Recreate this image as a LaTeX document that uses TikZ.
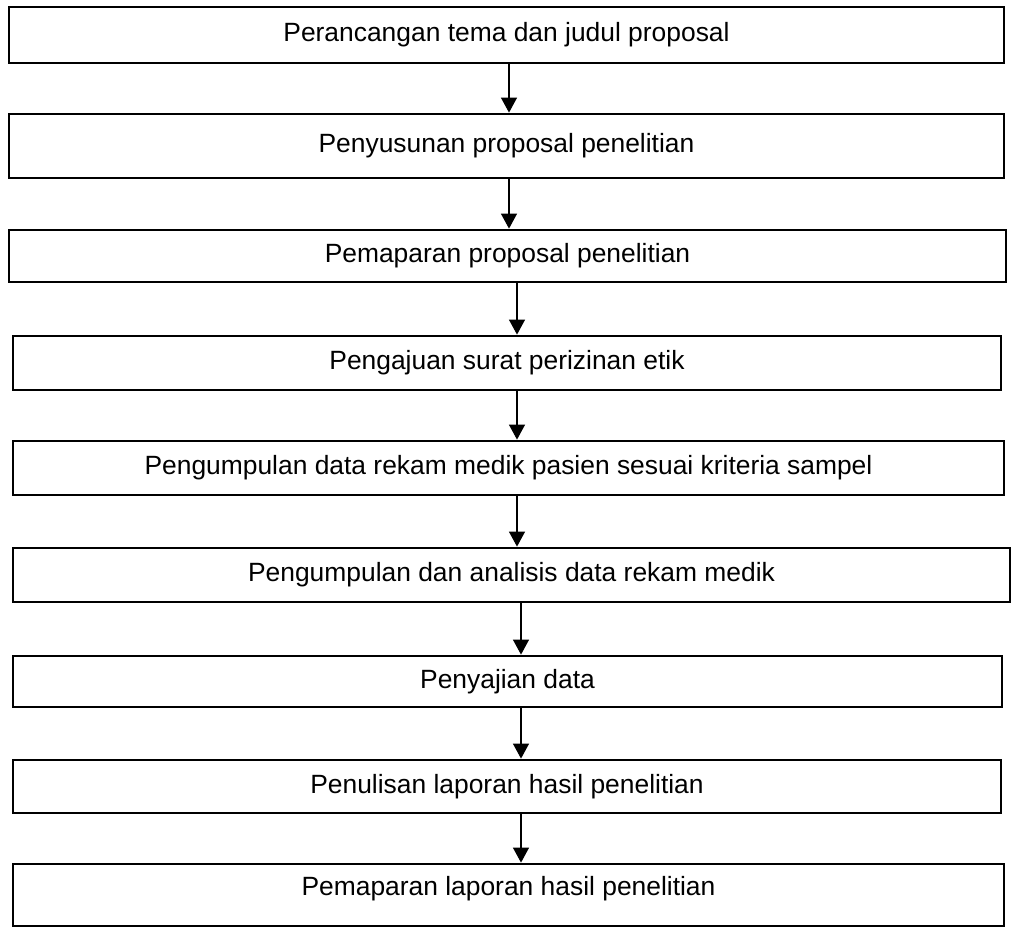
\documentclass[tikz,border=0pt]{standalone}
\usepackage{fontspec}
\setmainfont{Liberation Sans}
\usetikzlibrary{arrows.meta}

\begin{document}
\begin{tikzpicture}[x=0.5pt,y=-0.5pt,
  stepbox/.style={draw,line width=1.4pt,inner sep=0pt,font=\fontsize{13.2}{16}\selectfont},
  flow/.style={line width=0.6pt,-{Triangle[length=7.5pt,width=8pt]}}]
\useasboundingbox (0,0) rectangle (1013,928);
\node[stepbox,minimum width=497.5pt,minimum height=28pt] (1) at (506.5,35) {Perancangan tema dan judul proposal};
\node[stepbox,minimum width=497.5pt,minimum height=32pt] (2) at (506.5,146) {Penyusunan proposal penelitian};
\node[stepbox,minimum width=498.5pt,minimum height=26pt] (3) at (507.5,256) {Pemaparan proposal penelitian};
\node[stepbox,minimum width=494pt,minimum height=27pt] (4) at (507,363) {Pengajuan surat perizinan etik};
\node[stepbox,minimum width=495.5pt,minimum height=27pt] (5) at (508.5,468) {Pengumpulan data rekam medik pasien sesuai kriteria sampel};
\node[stepbox,minimum width=498.5pt,minimum height=27pt] (6) at (511.5,575) {Pengumpulan dan analisis data rekam medik};
\node[stepbox,minimum width=494.5pt,minimum height=25.5pt] (7) at (507.5,681.5) {Penyajian data};
\node[stepbox,minimum width=494pt,minimum height=26.5pt] (8) at (507,786.5) {Penulisan laporan hasil penelitian};
\node[stepbox,minimum width=495.5pt,minimum height=31pt,text depth=9pt] (9) at (508.5,895) {Pemaparan laporan hasil penelitian};
\draw[flow] ([xshift=1.25pt]1.south) -- ([xshift=1.25pt]1.south |- 2.north);
\draw[flow] ([xshift=1.25pt]2.south) -- ([xshift=1.25pt]2.south |- 3.north);
\draw[flow] ([xshift=4.75pt]3.south) -- ([xshift=4.75pt]3.south |- 4.north);
\draw[flow] ([xshift=5pt]4.south) -- ([xshift=5pt]4.south |- 5.north);
\draw[flow] ([xshift=4.25pt]5.south) -- ([xshift=4.25pt]5.south |- 6.north);
\draw[flow] ([xshift=4.75pt]6.south) -- ([xshift=4.75pt]6.south |- 7.north);
\draw[flow] ([xshift=6.75pt]7.south) -- ([xshift=6.75pt]7.south |- 8.north);
\draw[flow] ([xshift=7pt]8.south) -- ([xshift=7pt]8.south |- 9.north);
\end{tikzpicture}
\end{document}
